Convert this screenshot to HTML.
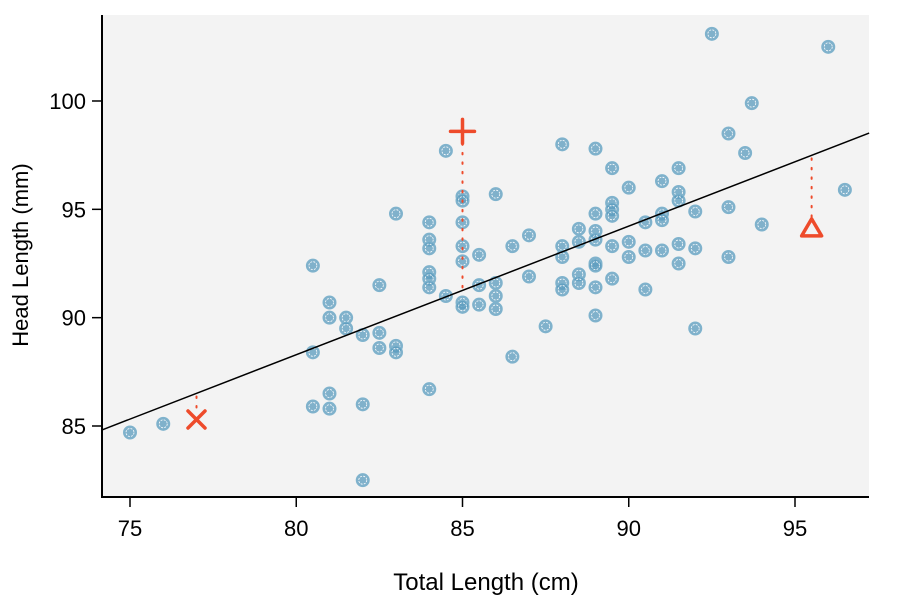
<!DOCTYPE html>
<html><head><meta charset="utf-8"><style>
body{margin:0;background:#fff;}
svg{display:block;font-family:"Liberation Sans",sans-serif;}
</style></head><body>
<svg id="chart" width="900" height="600">
<rect x="102" y="15" width="767" height="481" fill="#f3f3f3"/>
<g id="marks"></g>
<line x1="102" y1="15" x2="102" y2="497" stroke="#000" stroke-width="2"/>
<line x1="101" y1="497" x2="869" y2="497" stroke="#000" stroke-width="2"/>
<g id="axes"></g>
<text x="486" y="590" text-anchor="middle" font-size="24">Total Length (cm)</text>
<text transform="translate(28,255) rotate(-90)" text-anchor="middle" font-size="22">Head Length (mm)</text>
</svg>
<script>
const xTicks=[75,80,85,90,95];
const yTicks=[85,90,95,100];
const totalLength=[75,76,80.5,80.5,80.5,81,81,81,81,81.5,81.5,82,82,82,82.5,82.5,82.5,83,83,83,84,84,84,84,84,84,84,84.5,84.5,85,85,85,85,85,85,85,85.5,85.5,85.5,86,86,86,86,86.5,86.5,87,87,87.5,88,88,88,88,88,88.5,88.5,88.5,88.5,89,89,89,89,89,89,89,89,89.5,89.5,89.5,89.5,89.5,89.5,90,90,90,90.5,90.5,90.5,91,91,91,91,91.5,91.5,91.5,91.5,91.5,92,92,92,92.5,93,93,93,93.5,93.7,94,96,96.5];
const headLength=[84.7,85.1,92.4,88.4,85.9,90.7,90.0,86.5,85.8,90.0,89.5,89.2,86.0,82.5,91.5,89.3,88.6,94.8,88.7,88.4,94.4,93.6,93.2,92.1,91.8,91.4,86.7,97.7,91.0,95.6,95.4,94.4,93.3,92.6,90.7,90.5,92.9,91.5,90.6,95.7,91.6,91.0,90.4,93.3,88.2,93.8,91.9,89.6,98.0,93.3,92.8,91.6,91.3,94.1,93.5,92.0,91.6,97.8,94.8,94.0,93.6,92.5,92.4,91.4,90.1,96.9,95.3,95.0,94.7,93.3,91.8,96.0,93.5,92.8,94.4,93.1,91.3,96.3,94.8,94.5,93.1,96.9,95.8,95.4,93.4,92.5,94.9,93.2,89.5,103.1,98.5,95.1,92.8,97.6,99.9,94.3,102.5,95.9];
const fitX=[74.16,97.23];
const fitY=[84.82,98.52];
const outlierX=[85,77,95.5];
const outlierY=[98.6,85.3,94.1];
const outlierKind=['plus','cross','triangle'];

const sx=v=>130+(v-75)*33.25;
const sy=v=>426-(v-85)*21.667;
const NS='http://www.w3.org/2000/svg';
const marks=document.getElementById('marks');
const axes=document.getElementById('axes');
function mk(tag,attrs,parent){const e=document.createElementNS(NS,tag);for(const k in attrs)e.setAttribute(k,attrs[k]);parent.appendChild(e);return e;}
const slope=(fitY[1]-fitY[0])/(fitX[1]-fitX[0]);
const fit=x=>fitY[0]+slope*(x-fitX[0]);

xTicks.forEach(t=>{
 const l=mk('line',{x1:sx(t),x2:sx(t),y1:497,y2:507,stroke:'#000','stroke-width':1.5},axes);
 
 
 const tx=mk('text',{x:sx(t),y:536,'text-anchor':'middle','font-size':22},axes);
 tx.textContent=t;
 
 
});
yTicks.forEach(t=>{
 const l=mk('line',{x1:92,x2:102,y1:sy(t),y2:sy(t),stroke:'#000','stroke-width':1.5},axes);
 
 
 const tx=mk('text',{x:86,y:sy(t)+8,'text-anchor':'end','font-size':22},axes);
 tx.textContent=t;
 
 
});

totalLength.forEach((x,i)=>{
 const g=mk('g',{},marks);
 
 
 mk('circle',{cx:sx(x),cy:sy(headLength[i]),r:6.5,fill:'#5a9bbd','fill-opacity':0.75,stroke:'#7fb3cd','stroke-width':1},g);
 mk('circle',{cx:sx(x),cy:sy(headLength[i]),r:4,fill:'none',stroke:'#fff','stroke-width':0.8,'stroke-dasharray':'2 1.2'},g);
});

const fl=mk('line',{x1:sx(fitX[0]),y1:sy(fitY[0]),x2:sx(fitX[1]),y2:sy(fitY[1]),stroke:'#000','stroke-width':1.5},marks);



const red='#ee4b2b';
outlierX.forEach((x,i)=>{
 const X=sx(x),Y=sy(outlierY[i]),F=sy(fit(x));
 const r=mk('line',{x1:X,x2:X,y1:Y+(Y>F?-12:12),y2:F,stroke:red,'stroke-width':2,'stroke-dasharray':'1.5 8','stroke-linecap':'round'},marks);
 
 
 const g=mk('g',{stroke:red,'stroke-width':3.5,'stroke-linecap':'round',fill:'none'},marks);
 
 
 if(outlierKind[i]==='plus'){mk('line',{x1:X-12,x2:X+12,y1:Y,y2:Y},g);mk('line',{x1:X,x2:X,y1:Y-12,y2:Y+12},g);}
 else if(outlierKind[i]==='cross'){mk('line',{x1:X-8.5,x2:X+8.5,y1:Y-8.5,y2:Y+8.5},g);mk('line',{x1:X-8.5,x2:X+8.5,y1:Y+8.5,y2:Y-8.5},g);}
 else{mk('polygon',{points:`${X},${Y-10} ${X+10},${Y+7} ${X-10},${Y+7}`,'stroke-linejoin':'round'},g);}
});
</script>
</body></html>
